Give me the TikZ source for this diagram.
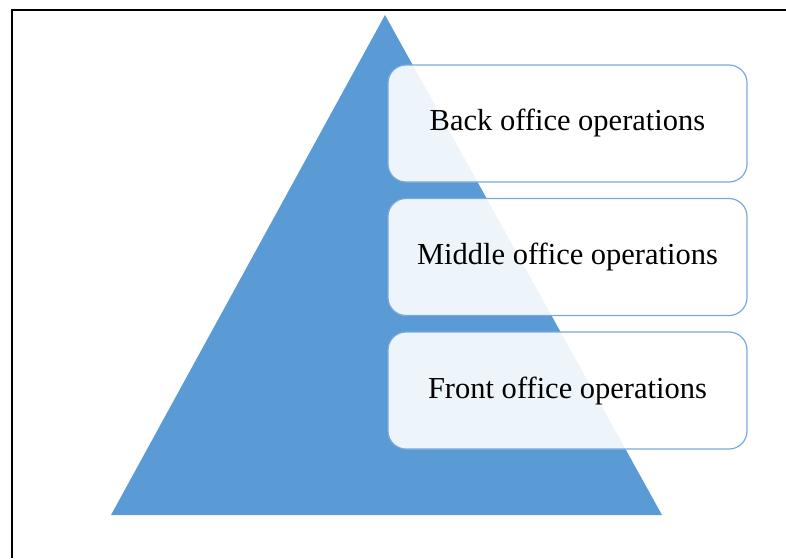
\documentclass[tikz,border=0pt]{standalone}
\usepackage{fontspec}
\setmainfont{Liberation Serif}
\definecolor{pyrblue}{RGB}{91,155,213}
\definecolor{boxline}{RGB}{120,170,225}

\begin{document}
\begin{tikzpicture}[x=1pt,y=-1pt]
\tikzset{levelbox/.style={draw=boxline, line width=1.2pt, fill=white, fill opacity=0.9, text opacity=1, rounded corners=18pt, minimum width=359pt, minimum height=117pt, font=\fontsize{30.5}{33}\selectfont}}
\useasboundingbox (0,0) rectangle (786,558);
\draw[line width=1.5pt] (12,558) -- (12,10) -- (786,10);
\fill[pyrblue] (385,15) coordinate (top) -- (662,515) coordinate (right) -- (111,515) coordinate (left) -- cycle;
\node[levelbox] (back) at (567.5,123.5) {Back office operations};
\node[levelbox] (middle) at (567.5,257) {Middle office operations};
\node[levelbox] (front) at (567.5,390.5) {Front office operations};
\end{tikzpicture}
\end{document}
